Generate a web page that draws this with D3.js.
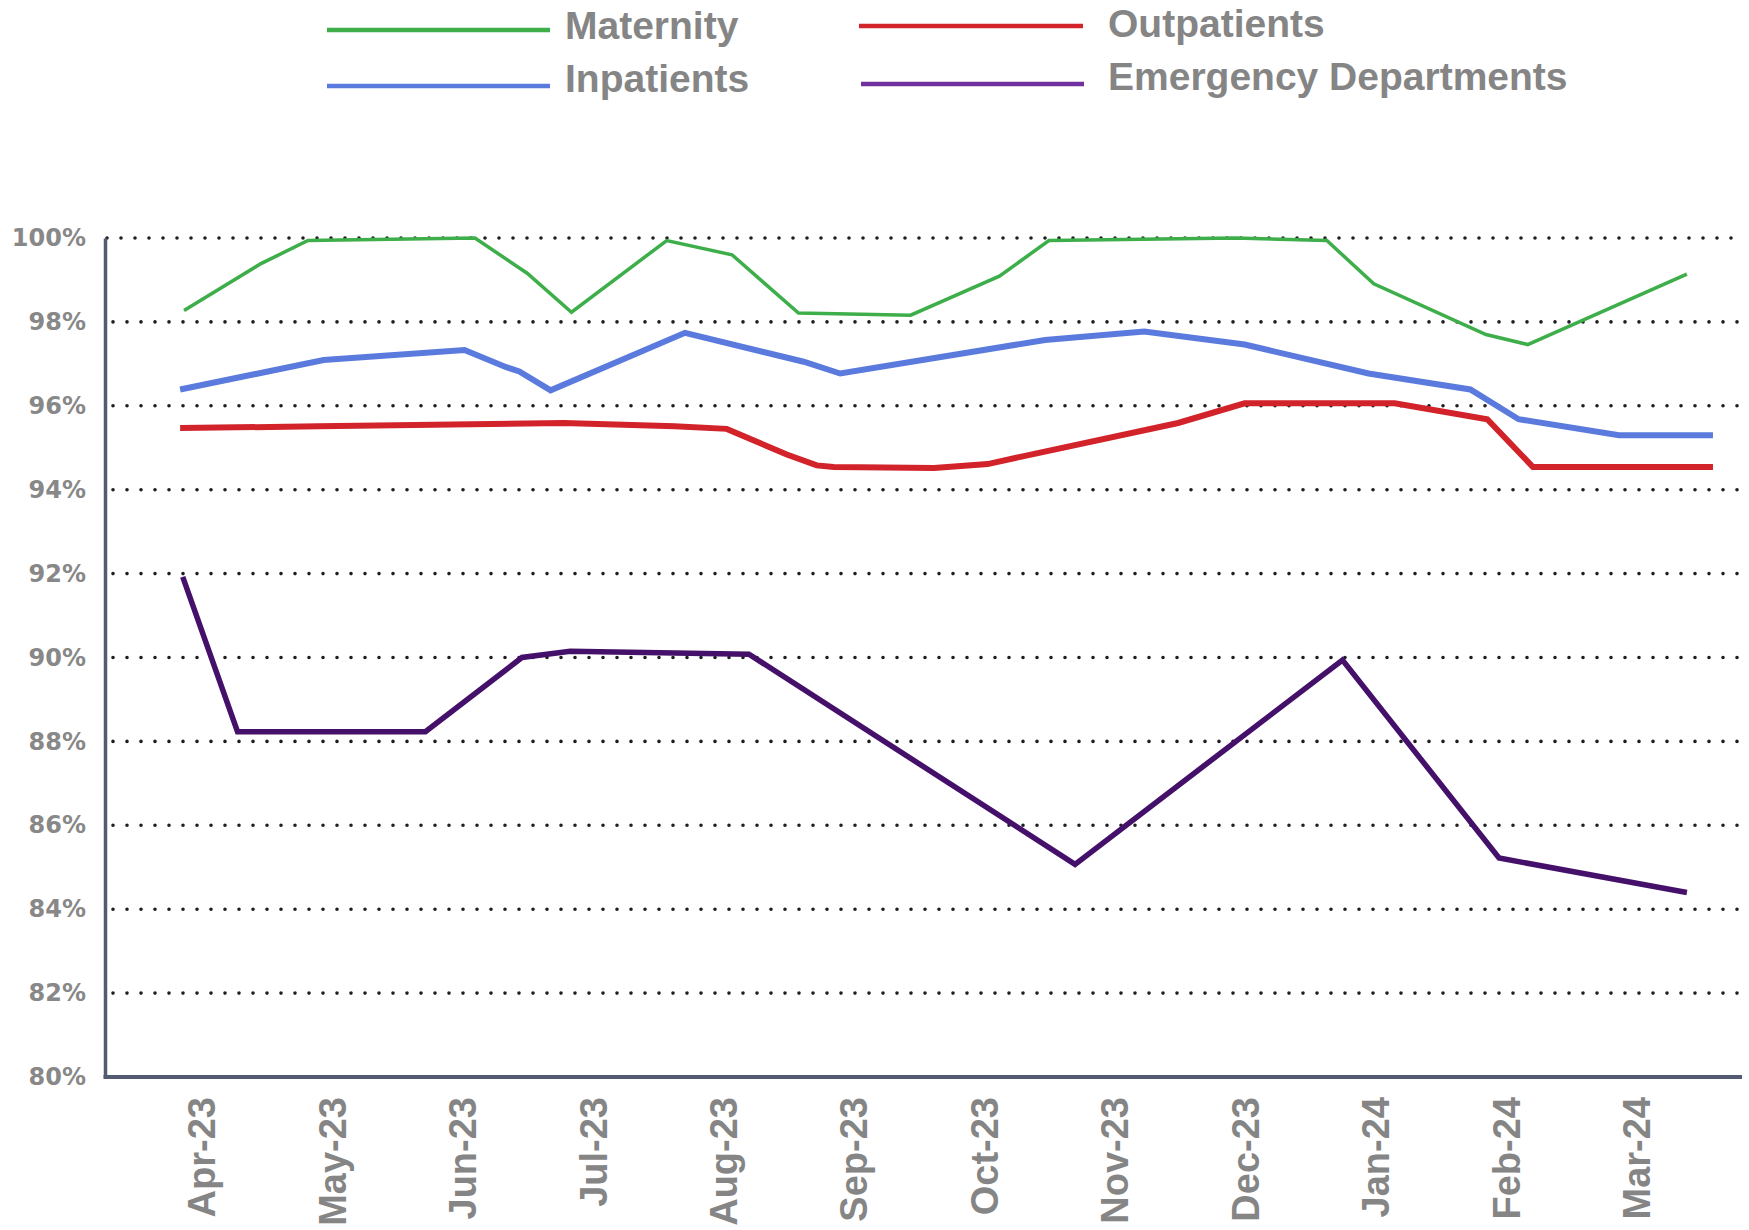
<!DOCTYPE html>
<html>
<head>
<meta charset="utf-8">
<script src="https://cdn.jsdelivr.net/npm/d3@7"></script>
<style>
    body { margin: 0; background: #fff; }
    .ytick text { font-family: "DejaVu Sans", sans-serif; font-weight: bold; font-size: 24px; fill: #888; }
    .xtick text { font-family: "Liberation Sans", Arial, sans-serif; font-weight: bold; font-size: 38px; fill: #858585; }
    .legend text { font-family: "Liberation Sans", Arial, sans-serif; font-weight: bold; font-size: 39px; fill: #858585; }
</style>
</head>
<body>
<div id="chart"></div>
<script>

var MONTHS = ["Apr-23", "May-23", "Jun-23", "Jul-23", "Aug-23", "Sep-23",
              "Oct-23", "Nov-23", "Dec-23", "Jan-24", "Feb-24", "Mar-24"];

var Y_TICKS = [80, 82, 84, 86, 88, 90, 92, 94, 96, 98, 100];

var SERIES_NAMES = ["Maternity", "Inpatients", "Outpatients", "Emergency Departments"];

/* positions are in months from Apr-23 (the points do not sit on the month ticks) */
var MATERNITY_POS    = [-0.13, 0.46, 0.82, 2.10, 2.50, 2.84, 3.57, 4.07, 4.58, 5.44, 6.12, 6.50, 7.93, 8.63, 8.99, 9.85, 10.17, 11.39];
var MATERNITY_VALUES = [98.27, 99.39, 99.94, 100.0, 99.16, 98.23, 99.94, 99.60, 98.21, 98.16, 99.09, 99.94, 100.0, 99.94, 98.91, 97.70, 97.46, 99.14];

var INPATIENTS_POS    = [-0.16, 0.94, 2.02, 2.34, 2.44, 2.68, 3.71, 4.62, 4.90, 6.47, 7.23, 8.00, 8.95, 9.73, 10.10, 10.87, 11.59];
var INPATIENTS_VALUES = [96.39, 97.09, 97.33, 96.92, 96.82, 96.37, 97.74, 97.05, 96.77, 97.57, 97.77, 97.46, 96.77, 96.39, 95.68, 95.30, 95.30];

var OUTPATIENTS_POS    = [-0.16, 0.90, 2.78, 3.63, 4.03, 4.49, 4.72, 4.85, 5.62, 6.03, 6.29, 7.49, 8.00, 9.15, 9.86, 10.21, 11.59];
var OUTPATIENTS_VALUES = [95.47, 95.51, 95.59, 95.51, 95.45, 94.84, 94.58, 94.54, 94.52, 94.61, 94.79, 95.59, 96.06, 96.06, 95.68, 94.54, 94.54];

var ED_POS    = [-0.14, 0.28, 1.72, 2.46, 2.83, 4.20, 6.70, 8.75, 9.95, 11.39];
var ED_VALUES = [91.92, 88.23, 88.23, 90.00, 90.15, 90.08, 85.07, 89.94, 85.22, 84.40];

var LINE_COLORS   = ["#3dae49", "#5a7bdd", "#d2232b", "#45106a"];
var LEGEND_COLORS = ["#3dae49", "#5a7bdd", "#d2232b", "#7030a0"];
var LINE_WIDTHS   = [3.5, 6, 6, 5.5];

var WIDTH = 1749;
var HEIGHT = 1230;

/* plot frame */
var AXIS_LEFT = 105;
var PLOT_RIGHT = 1742;
var PLOT_TOP = 238;
var PLOT_BOTTOM = 1077;

function buildSeries(){
    var positions = [MATERNITY_POS, INPATIENTS_POS, OUTPATIENTS_POS, ED_POS];
    var values = [MATERNITY_VALUES, INPATIENTS_VALUES, OUTPATIENTS_VALUES, ED_VALUES];
    return SERIES_NAMES.map(function(name, i){
        return {
            name: name,
            color: LINE_COLORS[i],
            legendColor: LEGEND_COLORS[i],
            width: LINE_WIDTHS[i],
            points: positions[i].map(function(p, j){ return {pos: p, value: values[i][j]}; })
        };
    });
}

function init(){
    var series = buildSeries();

    var svg = d3.select("#chart").append("svg")
        .attr("width", WIDTH)
        .attr("height", HEIGHT);

    var x = d3.scaleLinear().domain([0, MONTHS.length - 1]).range([201, 1636]);
    var y = d3.scaleLinear().domain([80, 100]).range([PLOT_BOTTOM, PLOT_TOP]);

    /* dotted gridlines */
    svg.append("g").selectAll("line")
        .data(Y_TICKS.filter(function(t){ return t > 80; }))
        .enter().append("line")
        .attr("x1", function(t){ return t === 100 ? AXIS_LEFT + 2 : AXIS_LEFT + 8; })
        .attr("x2", PLOT_RIGHT)
        .attr("y1", function(t){ return y(t); })
        .attr("y2", function(t){ return y(t); })
        .attr("stroke", "#1e1e22")
        .attr("stroke-width", 3.6)
        .attr("stroke-linecap", "round")
        .attr("stroke-dasharray", "0 14");

    /* y axis */
    var yAxis = svg.append("g")
        .attr("transform", "translate(" + AXIS_LEFT + ",0)")
        .call(d3.axisLeft(y).tickValues(Y_TICKS).tickSize(0).tickPadding(19)
            .tickFormat(function(d){ return d + "%"; }));
    yAxis.selectAll(".tick").classed("ytick", true);
    yAxis.select(".domain").attr("stroke", "#535b72").attr("stroke-width", 3.5);
    yAxis.selectAll("text").attr("font-family", null).attr("font-size", null).attr("fill", null);

    /* x axis: month labels, rotated */
    var xAxis = svg.append("g")
        .attr("transform", "translate(0," + PLOT_BOTTOM + ")")
        .call(d3.axisBottom(x).tickValues(d3.range(MONTHS.length)).tickSize(0)
            .tickFormat(function(i){ return MONTHS[i]; }));
    xAxis.select(".domain").remove();
    xAxis.selectAll(".tick").classed("xtick", true);
    xAxis.selectAll("text")
        .attr("font-family", null).attr("font-size", null).attr("fill", null)
        .attr("transform", "rotate(-90)")
        .attr("x", -20)
        .attr("y", 0)
        .attr("dy", "0.36em")
        .style("text-anchor", "end");

    /* baseline */
    svg.append("line")
        .attr("x1", AXIS_LEFT - 1.5)
        .attr("x2", PLOT_RIGHT)
        .attr("y1", PLOT_BOTTOM)
        .attr("y2", PLOT_BOTTOM)
        .attr("stroke", "#535b72")
        .attr("stroke-width", 4);

    /* series lines */
    var line = d3.line()
        .x(function(d){ return x(d.pos); })
        .y(function(d){ return y(d.value); });

    svg.append("g").selectAll("path")
        .data(series)
        .enter().append("path")
        .attr("d", function(s){ return line(s.points); })
        .attr("fill", "none")
        .attr("stroke", function(s){ return s.color; })
        .attr("stroke-width", function(s){ return s.width; });

    appendLegend(svg, series);
}

function appendLegend(svg, series){
    /* two columns: Maternity / Inpatients left, Outpatients / ED right */
    var spots = [
        {x1: 327, x2: 550, lineY: 30, textX: 565, textY: 39},
        {x1: 327, x2: 550, lineY: 86, textX: 565, textY: 92},
        {x1: 859, x2: 1083, lineY: 26, textX: 1108, textY: 37},
        {x1: 861, x2: 1084, lineY: 84, textX: 1108, textY: 90}
    ];

    var items = svg.append("g").classed("legend", true)
        .selectAll("g").data(series).enter().append("g");

    items.append("line")
        .attr("x1", function(s, i){ return spots[i].x1; })
        .attr("x2", function(s, i){ return spots[i].x2; })
        .attr("y1", function(s, i){ return spots[i].lineY; })
        .attr("y2", function(s, i){ return spots[i].lineY; })
        .attr("stroke", function(s){ return s.legendColor; })
        .attr("stroke-width", 4.5);

    items.append("text")
        .attr("x", function(s, i){ return spots[i].textX; })
        .attr("y", function(s, i){ return spots[i].textY; })
        .text(function(s){ return s.name; });
}

init();
</script>
</body>
</html>
